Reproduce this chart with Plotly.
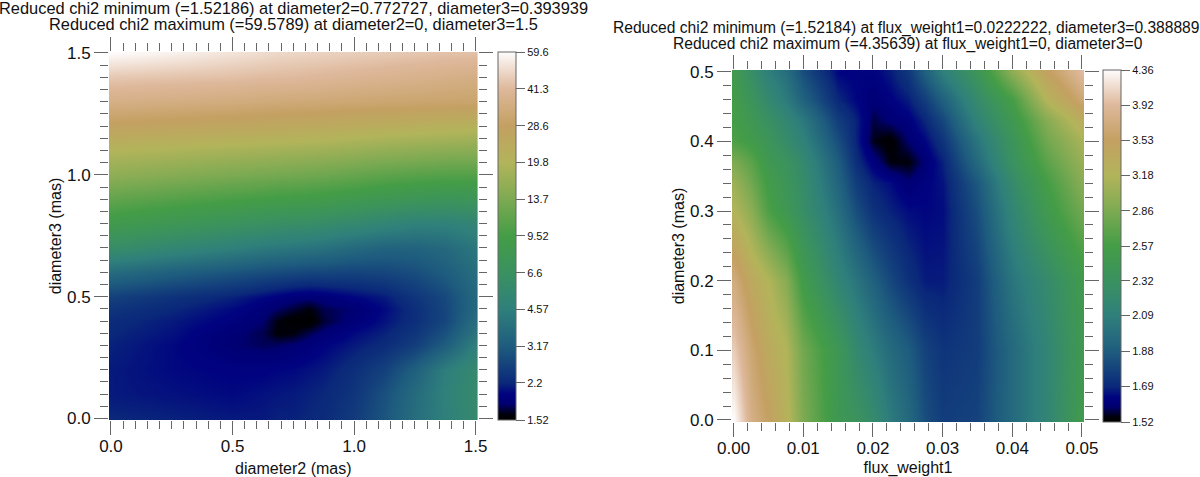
import numpy as np
import plotly.graph_objects as go

# left map: diameter2 / diameter3, reduced chi2
left_x = [0, 0.25, 0.5, 0.625, 0.6875, 0.75, 0.8125, 0.875, 1.0, 1.125, 1.25, 1.375, 1.5]
left_y = [0, 0.1, 0.2, 0.3, 0.35, 0.4, 0.45, 0.5, 0.6, 0.7, 0.8, 0.9, 1.0, 1.1, 1.2, 1.3, 1.4, 1.5]
left_z = [
    [2.2, 2.15, 2.1, 2.1, 2.15, 2.15, 2.2, 2.25, 2.5, 3.0, 3.8, 4.6, 5.6],
    [2.1, 2.05, 2.0, 2.05, 2.08, 2.1, 2.15, 2.2, 2.4, 2.9, 3.7, 4.7, 5.7],
    [2.1, 2.0, 1.95, 1.95, 1.98, 2.0, 2.05, 2.1, 2.3, 2.6, 3.3, 4.5, 5.6],
    [2.15, 2.0, 1.8, 1.74, 1.76, 1.8, 1.88, 1.96, 2.1, 2.25, 2.55, 3.2, 4.6],
    [2.2, 2.05, 1.82, 1.72, 1.58, 1.6, 1.72, 1.82, 2.0, 2.15, 2.4, 2.9, 4.1],
    [2.25, 2.1, 1.92, 1.78, 1.6, 1.53, 1.52, 1.68, 1.85, 2.05, 2.3, 2.7, 3.8],
    [2.4, 2.2, 2.0, 1.85, 1.76, 1.68, 1.6, 1.72, 1.8, 2.0, 2.3, 2.7, 3.6],
    [2.6, 2.35, 2.15, 2.0, 1.92, 1.85, 1.82, 1.85, 1.98, 2.1, 2.4, 2.75, 3.6],
    [3.7, 3.3, 3.0, 2.85, 2.8, 2.75, 2.7, 2.7, 2.65, 2.7, 2.85, 3.2, 3.8],
    [6.0, 5.2, 4.6, 4.3, 4.2, 4.1, 4.0, 3.9, 3.6, 3.4, 3.4, 3.6, 4.2],
    [8.5, 7.6, 6.8, 6.4, 6.2, 6.1, 6.0, 5.8, 5.4, 5.0, 4.7, 4.7, 5.0],
    [11.5, 10.6, 9.8, 9.4, 9.2, 9.1, 9.0, 8.8, 8.3, 7.8, 7.4, 7.2, 7.4],
    [15.5, 14.5, 13.6, 13.2, 13.0, 12.8, 12.6, 12.4, 11.8, 11.2, 10.8, 10.5, 10.5],
    [20, 19.2, 18.4, 18, 17.8, 17.6, 17.4, 17.2, 16.6, 16.0, 15.6, 15.2, 15],
    [27.5, 26.5, 25.5, 25, 24.7, 24.5, 24.2, 24, 23.2, 22.5, 22, 21.5, 21],
    [36, 35, 34, 33.3, 33, 32.8, 32.6, 32.3, 31.8, 31.3, 31, 30.7, 30.5],
    [45, 44, 43, 42, 41.8, 41.5, 41, 40.5, 39.5, 38.5, 37.5, 36.5, 35.5],
    [59.6, 56, 52, 50, 49, 48.5, 48, 47.5, 46.5, 45.5, 44.5, 43.5, 43],
]
left_ticks = [1.52, 2.2, 3.17, 4.57, 6.6, 9.52, 13.7, 19.8, 28.6, 41.3, 59.6]
left_ticktext = ["1.52", "2.2", "3.17", "4.57", "6.6", "9.52", "13.7", "19.8", "28.6", "41.3", "59.6"]

# right map: flux_weight1 / diameter3
right_x = [0, 0.0025, 0.005, 0.0075, 0.01, 0.015, 0.0175, 0.02, 0.0225, 0.025, 0.0275, 0.03, 0.035, 0.04, 0.045, 0.05]
right_y = [0, 0.1, 0.2, 0.3, 0.34, 0.37, 0.40, 0.43, 0.46, 0.5]
right_z = [
    [4.36, 3.78, 3.53, 3.24, 2.86, 2.44, 2.35, 2.22, 2.06, 1.95, 1.82, 1.76, 1.78, 1.95, 2.15, 2.50],
    [4.05, 3.64, 3.35, 3.18, 2.80, 2.42, 2.20, 2.07, 1.96, 1.88, 1.78, 1.73, 1.76, 1.95, 2.15, 2.46],
    [3.72, 3.38, 3.18, 2.92, 2.52, 2.15, 2.02, 1.90, 1.80, 1.72, 1.67, 1.67, 1.76, 2.02, 2.22, 2.49],
    [3.18, 2.95, 2.62, 2.44, 2.27, 1.98, 1.82, 1.72, 1.68, 1.65, 1.64, 1.65, 1.82, 2.15, 2.49, 2.80],
    [3.04, 2.80, 2.54, 2.39, 2.24, 1.92, 1.76, 1.68, 1.65, 1.60, 1.63, 1.66, 1.86, 2.22, 2.57, 2.92],
    [2.86, 2.69, 2.46, 2.35, 2.20, 1.88, 1.71, 1.62, 1.545, 1.54, 1.60, 1.68, 1.95, 2.32, 2.69, 3.01],
    [2.62, 2.52, 2.39, 2.24, 2.11, 1.82, 1.68, 1.55, 1.525, 1.59, 1.64, 1.73, 2.02, 2.37, 2.80, 3.11],
    [2.57, 2.44, 2.30, 2.17, 2.04, 1.76, 1.68, 1.57, 1.60, 1.62, 1.69, 1.80, 2.13, 2.46, 2.92, 3.32],
    [2.54, 2.37, 2.20, 2.06, 1.91, 1.69, 1.64, 1.60, 1.63, 1.67, 1.76, 1.90, 2.22, 2.57, 3.20, 3.65],
    [2.49, 2.27, 2.09, 1.98, 1.82, 1.64, 1.63, 1.63, 1.67, 1.74, 1.90, 2.09, 2.39, 2.95, 3.50, 3.95],
]
right_ticks = [1.52, 1.69, 1.88, 2.09, 2.32, 2.57, 2.86, 3.18, 3.53, 3.92, 4.36]
right_ticktext = ["1.52", "1.69", "1.88", "2.09", "2.32", "2.57", "2.86", "3.18", "3.53", "3.92", "4.36"]

# same look as the colour bars in the picture (gist_earth like)
earth = [
    [0.0, "rgb(0,0,0)"], [0.014, "rgb(0,0,10)"], [0.045, "rgb(0,0,115)"], [0.07, "rgb(0,2,128)"],
    [0.1, "rgb(10,40,122)"], [0.2, "rgb(30,92,126)"], [0.3, "rgb(47,127,124)"], [0.4, "rgb(58,145,96)"],
    [0.5, "rgb(68,157,70)"], [0.6, "rgb(125,170,82)"], [0.7, "rgb(178,180,90)"], [0.8, "rgb(196,160,98)"],
    [0.9, "rgb(222,184,155)"], [1.0, "rgb(254,252,252)"],
]

W, H = 1200, 477
FONT = "Liberation Sans"
TICK = "#666666"


def axis(px0, px1, rng, major, minor, fmt, title, size, standoff, label_shift):
    return dict(
        domain=[px0 / size, px1 / size],
        range=rng,
        automargin=False,
        tick0=0,
        dtick=major,
        tickformat=fmt,
        ticks="outside",
        ticklen=14,
        tickwidth=1,
        tickcolor=TICK,
        mirror="ticks",
        minor=dict(dtick=minor, tick0=0, ticks="outside", ticklen=8, tickwidth=1, tickcolor=TICK),
        showgrid=False,
        zeroline=False,
        showline=False,
        ticklabelstandoff=label_shift,
        tickfont=dict(size=17, color="#111111"),
        title=dict(text=title, font=dict(size=16, color="#111111"), standoff=standoff),
    )


def bar(px_x, top, bottom, ticks, text):
    return dict(
        x=px_x / W,
        xanchor="left",
        xpad=0,
        y=1 - bottom / H,
        yanchor="bottom",
        ypad=0,
        len=(bottom - top) / H,
        thickness=18,
        outlinecolor=TICK,
        outlinewidth=1,
        tickvals=np.log10(ticks),
        ticktext=text,
        ticks="outside",
        ticklen=9,
        tickcolor=TICK,
        tickfont=dict(size=11, color="#111111"),
    )


fig = go.Figure()
fig.add_trace(go.Heatmap(
    x=left_x, y=left_y, z=np.log10(left_z), xaxis="x", yaxis="y",
    colorscale=earth, zmin=np.log10(1.52), zmax=np.log10(59.6), zsmooth="best",
    colorbar=bar(497.5, 52, 420, left_ticks, left_ticktext),
))
fig.add_trace(go.Heatmap(
    x=right_x, y=right_y, z=np.log10(right_z), xaxis="x2", yaxis="y2",
    colorscale=earth, zmin=np.log10(1.52), zmax=np.log10(4.36), zsmooth="best",
    colorbar=bar(1102.5, 70, 422, right_ticks, right_ticktext),
))

titles = [
    (293, 8, 16.4, "Reduced chi2 minimum (=1.52186) at diameter2=0.772727, diameter3=0.393939"),
    (293, 24, 16.4, "Reduced chi2 maximum (=59.5789) at diameter2=0, diameter3=1.5"),
    (906, 28, 15.6, "Reduced chi2 minimum (=1.52184) at flux_weight1=0.0222222, diameter3=0.388889"),
    (908, 44, 15.6, "Reduced chi2 maximum (=4.35639) at flux_weight1=0, diameter3=0"),
]

fig.update_layout(
    width=W,
    height=H,
    margin=dict(l=0, r=0, t=0, b=0),
    paper_bgcolor="white",
    plot_bgcolor="white",
    font=dict(family=FONT, color="#111111"),
    xaxis=axis(109, 477.6, [-0.008, 1.508], 0.5, 0.05, ".1f", "diameter2 (mas)", W, 8, -3),
    yaxis=axis(H - 420, H - 52, [-0.006, 1.504], 0.5, 0.05, ".1f", "diameter3 (mas)", H, 1, 0),
    xaxis2=axis(732, 1084, [-0.00023, 0.05029], 0.01, 0.002, ".2f", "flux_weight1", W, 8, -3),
    yaxis2=axis(H - 422, H - 70, [-0.0029, 0.5024], 0.1, 0.02, ".1f", "diameter3 (mas)", H, 1, 0),
    annotations=[
        dict(x=x / W, y=1 - y / H, xref="paper", yref="paper", text=t, showarrow=False,
             xanchor="center", yanchor="middle", font=dict(size=s, color="#111111"))
        for x, y, s, t in titles
    ],
)
fig.update_layout(xaxis2_anchor="y2", yaxis2_anchor="x2")

# page margin would push the whole figure 8px in
fig.write_html("out.html", config={"displayModeBar": False},
               post_script="document.body.style.margin='0';")
